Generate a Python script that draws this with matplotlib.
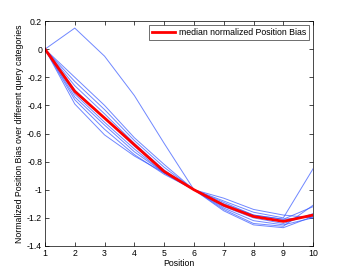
import numpy as np
from matplotlib import pyplot as plt

# positions et courbes par categorie de requete
positions = [1, 2, 3, 4, 5, 6, 7, 8, 9, 10]

categories = [
    [0, 0.15, -0.05, -0.33, -0.67, -1, -1.10, -1.18, -1.21, -1.12],
    [0, -0.20, -0.40, -0.63, -0.82, -1, -1.06, -1.14, -1.18, -1.20],
    [0, -0.23, -0.43, -0.65, -0.84, -1, -1.08, -1.16, -1.20, -0.85],
    [0, -0.26, -0.46, -0.67, -0.86, -1, -1.09, -1.18, -1.21, -1.19],
    [0, -0.29, -0.49, -0.69, -0.87, -1, -1.11, -1.19, -1.22, -1.18],
    [0, -0.32, -0.52, -0.71, -0.88, -1, -1.12, -1.20, -1.24, -1.17],
    [0, -0.34, -0.54, -0.73, -0.88, -1, -1.13, -1.22, -1.25, -1.20],
    [0, -0.36, -0.57, -0.75, -0.89, -1, -1.14, -1.24, -1.26, -1.11],
    [0, -0.39, -0.61, -0.76, -0.88, -1, -1.15, -1.25, -1.27, -1.19],
]

median = [0, -0.30, -0.49, -0.68, -0.87, -1, -1.11, -1.19, -1.225, -1.18]

plt.rcParams['font.family'] = ['Liberation Sans', 'DejaVu Sans']
plt.rcParams['font.size'] = 6.3

fig = plt.figure(figsize=(3.46, 2.77), dpi=100)
ax = fig.add_axes([0.130, 0.112, 0.775, 0.812])

for c in categories:
    ax.plot(positions, c, color='#3355ff', lw=0.7, alpha=0.7)
ax.plot(positions, median, color='red', lw=2, label='median normalized Position Bias')

ax.set_xlim(1, 10)
ax.set_ylim(-1.4, 0.2)
ax.set_xticks(positions)
ax.set_yticks(np.arange(-1.4, 0.21, 0.2))
ax.set_yticklabels(['-1.4', '-1.2', '-1', '-0.8', '-0.6', '-0.4', '-0.2', '0', '0.2'])
ax.tick_params(direction='in', top=True, right=True, length=3, width=0.5, pad=2)
for s in ax.spines.values():
    s.set_linewidth(0.5)

ax.set_xlabel('Position', labelpad=1)
ax.set_ylabel('Normalized Position Bias over different query categories', labelpad=2)

leg = ax.legend(loc='upper right', fancybox=False, edgecolor='black', borderpad=0.3,
                handlelength=2.6, handletextpad=0.5, borderaxespad=0.5)
leg.get_frame().set_linewidth(0.5)

plt.savefig('out.png')
